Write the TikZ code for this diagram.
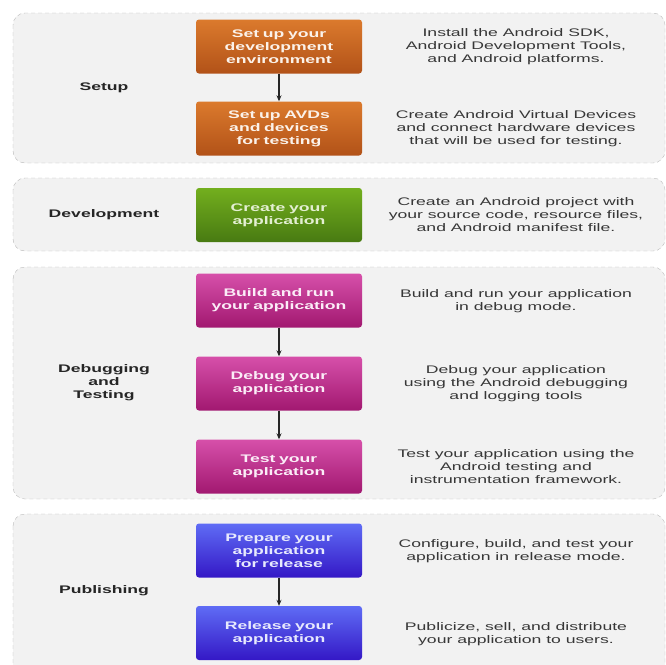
\documentclass[tikz,border=0pt]{standalone}
\usepackage{fontspec}
\setmainfont[FakeStretch=1.6]{Liberation Sans}
\usetikzlibrary{arrows.meta}

\definecolor{panelfill}{RGB}{242,242,242}
\definecolor{paneldash}{RGB}{185,185,185}
\definecolor{desctext}{RGB}{55,55,55}
\definecolor{setupA}{RGB}{219,122,45}
\definecolor{setupB}{RGB}{178,82,24}
\definecolor{devA}{RGB}{115,175,30}
\definecolor{devB}{RGB}{72,122,18}
\definecolor{debugA}{RGB}{214,80,170}
\definecolor{debugB}{RGB}{162,24,112}
\definecolor{pubA}{RGB}{95,108,245}
\definecolor{pubB}{RGB}{52,24,198}

\begin{document}
\begin{tikzpicture}[x=1pt, y=-1pt, font=\fontsize{11}{13}\selectfont,
    panel/.style={draw=paneldash, dash pattern=on 4pt off 3pt, fill=panelfill, rounded corners=12pt},
    stage/.style={rounded corners=3pt, minimum width=166pt, minimum height=54pt,
                  text width=156pt, align=center, text=white, font=\fontsize{11}{13}\selectfont\bfseries},
    setupbox/.style={stage, top color=setupA, bottom color=setupB, text=white!90!setupA},
    devbox/.style={stage, top color=devA, bottom color=devB, text=white!80!devA},
    debugbox/.style={stage, top color=debugA, bottom color=debugB, text=white!90!debugA},
    pubbox/.style={stage, top color=pubA, bottom color=pubB, text=white!85!pubA},
    phase/.style={align=center, text=black!85, font=\fontsize{11}{13}\selectfont\bfseries},
    desc/.style={align=center, text=desctext},
    flow/.style={-{Stealth[length=6pt,width=5pt]}, line width=1.1pt, black!85}]

    \useasboundingbox (0,0) rectangle (666,664);
    \clip (0,0) rectangle (666,664);

    % phase panels
    \draw[panel] (13,13) rectangle (665,163);
    \draw[panel] (13,178) rectangle (665,251);
    \draw[panel] (13,267) rectangle (665,499);
    \draw[panel] (13,514) rectangle (665,676);

    % phase names
    \node[phase] (setup) at (104,88) {Setup};
    \node[phase] (devel) at (104,215) {Development};
    \node[phase] (debtest) at (104,383) {Debugging\\and\\Testing};
    \node[phase] (publish) at (104,591) {Publishing};

    % steps
    \node[setupbox] (env) at (279,46.5) {Set up your\\development\\environment};
    \node[setupbox] (avd) at (279,128.5) {Set up AVDs\\and devices\\for testing};
    \node[devbox] (create) at (279,215) {Create your\\application};
    \node[debugbox] (build) at (279,300.5) {Build and run\\your application};
    \node[debugbox] (dbg) at (279,383.5) {Debug your\\application};
    \node[debugbox] (test) at (279,466.5) {Test your\\application};
    \node[pubbox] (prep) at (279,550.5) {Prepare your\\application\\for release};
    \node[pubbox] (release) at (279,633) {Release your\\application};

    \draw[flow] (env) -- (avd);
    \draw[flow] (build) -- (dbg);
    \draw[flow] (dbg) -- (test);
    \draw[flow] (prep) -- (release);

    % descriptions
    \node[desc] (envtxt) at (516,47) {Install the Android SDK,\\Android Development Tools,\\and Android platforms.};
    \node[desc] (avdtxt) at (516,129) {Create Android Virtual Devices\\and connect hardware devices\\that will be used for testing.};
    \node[desc] (createtxt) at (516,215) {Create an Android project with\\your source code, resource files,\\and Android manifest file.};
    \node[desc] (buildtxt) at (516,301) {Build and run your application\\in debug mode.};
    \node[desc] (dbgtxt) at (516,384) {Debug your application\\using the Android debugging\\and logging tools};
    \node[desc] (testtxt) at (516,467) {Test your application using the\\Android testing and\\instrumentation framework.};
    \node[desc] (preptxt) at (516,551) {Configure, build, and test your\\application in release mode.};
    \node[desc] (reltxt) at (516,634) {Publicize, sell, and distribute\\your application to users.};
\end{tikzpicture}
\end{document}
